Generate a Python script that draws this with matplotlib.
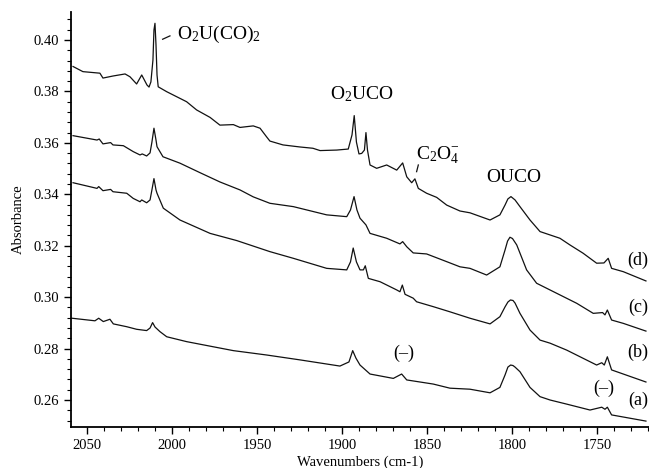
import matplotlib
matplotlib.use("Agg")
import matplotlib.pyplot as plt
from matplotlib.ticker import MultipleLocator

plt.rcParams['font.family'] = ['Liberation Serif', 'DejaVu Serif']
plt.rcParams['mathtext.fontset'] = 'custom'
plt.rcParams['mathtext.rm'] = 'Liberation Serif'

# trace (d) - top
wn_d = [2058.2, 2052.4, 2042.4, 2040.6, 2034.7, 2027.6, 2024.7, 2020.8, 2017.8, 2014.7,
        2013.5, 2012.4, 2011.2, 2010.6, 2010.0, 2009.4, 2008.8, 2008.1, 2003.1, 1995.3,
        1991.4, 1985.5, 1977.6, 1971.8, 1963.9, 1960.0, 1952.2, 1948.2, 1944.3, 1942.4,
        1934.7, 1924.7, 1917.1, 1912.9, 1903.1, 1896.3, 1894.1, 1892.8, 1891.5, 1890.0,
        1888.4, 1886.8, 1885.9, 1885.0, 1883.5, 1879.6, 1873.7, 1867.8, 1864.3, 1861.9,
        1859.0, 1857.1, 1855.1, 1850.2, 1844.3, 1838.4, 1830.6, 1824.7, 1812.9, 1807.1,
        1804.1, 1802.4, 1800.6, 1798.2, 1795.3, 1789.4, 1783.5, 1771.8, 1765.9, 1758.2,
        1750.2, 1745.9, 1743.4, 1741.4, 1734.5, 1721.2]
abs_d = [0.3897, 0.3877, 0.3871, 0.3852, 0.3860, 0.3868, 0.3857, 0.3829, 0.3864, 0.3825,
         0.3817, 0.3837, 0.3922, 0.4039, 0.4065, 0.3981, 0.3864, 0.3818, 0.3799, 0.3773,
         0.3760, 0.3728, 0.3699, 0.3669, 0.3671, 0.3660, 0.3666, 0.3657, 0.3623, 0.3607,
         0.3592, 0.3584, 0.3579, 0.3570, 0.3572, 0.3576, 0.3631, 0.3706, 0.3603, 0.3557,
         0.3559, 0.3572, 0.3640, 0.3572, 0.3514, 0.3501, 0.3514, 0.3494, 0.3522, 0.3468,
         0.3445, 0.3460, 0.3423, 0.3404, 0.3388, 0.3358, 0.3335, 0.3328, 0.3300, 0.3320,
         0.3358, 0.3382, 0.3391, 0.3378, 0.3352, 0.3300, 0.3255, 0.3229, 0.3203, 0.3171,
         0.3132, 0.3133, 0.3151, 0.3112, 0.3099, 0.3063]

# trace (c)
wn_c = [2058.2, 2044.1, 2042.8, 2040.6, 2036.1, 2034.7, 2028.6, 2022.8, 2018.8, 2017.5,
        2014.9, 2012.9, 2011.8, 2010.6, 2009.4, 2008.8, 2005.3, 1995.3, 1983.5, 1971.8,
        1960.0, 1952.2, 1942.4, 1928.6, 1909.0, 1897.2, 1895.0, 1892.9, 1891.2, 1889.4,
        1885.9, 1883.5, 1873.7, 1865.9, 1864.3, 1861.9, 1858.1, 1850.2, 1838.4, 1830.6,
        1824.7, 1814.9, 1807.1, 1804.1, 1802.6, 1801.2, 1799.7, 1797.2, 1791.4, 1785.5,
        1773.7, 1761.9, 1752.2, 1746.7, 1745.3, 1743.9, 1741.4, 1734.5, 1721.2]
abs_c = [0.3628, 0.3611, 0.3615, 0.3596, 0.3601, 0.3592, 0.3589, 0.3566, 0.3553, 0.3557,
         0.3549, 0.3561, 0.3603, 0.3657, 0.3611, 0.3585, 0.3546, 0.3521, 0.3484, 0.3448,
         0.3417, 0.3390, 0.3365, 0.3352, 0.3320, 0.3313, 0.3339, 0.3391, 0.3339, 0.3307,
         0.3281, 0.3248, 0.3229, 0.3207, 0.3216, 0.3196, 0.3172, 0.3168, 0.3138, 0.3118,
         0.3112, 0.3086, 0.3118, 0.3183, 0.3218, 0.3233, 0.3228, 0.3203, 0.3106, 0.3054,
         0.3015, 0.2976, 0.2937, 0.2940, 0.2931, 0.2950, 0.2911, 0.2898, 0.2868]

# trace (b)
wn_b = [2058.2, 2044.1, 2043.1, 2040.6, 2036.1, 2034.7, 2026.6, 2022.8, 2018.8, 2017.8,
        2014.9, 2012.9, 2011.8, 2010.6, 2009.4, 2008.8, 2005.1, 1995.3, 1977.6, 1961.9,
        1942.4, 1928.6, 1909.0, 1897.2, 1895.0, 1893.4, 1891.5, 1889.4, 1887.4, 1886.3,
        1884.5, 1877.6, 1867.8, 1865.9, 1864.5, 1862.9, 1858.1, 1856.1, 1846.3, 1836.5,
        1824.7, 1812.9, 1807.1, 1804.1, 1802.4, 1800.9, 1799.4, 1798.2, 1795.3, 1789.4,
        1783.5, 1777.6, 1767.8, 1758.1, 1750.2, 1747.2, 1745.7, 1743.9, 1741.4, 1721.2]
abs_b = [0.3445, 0.3423, 0.3430, 0.3414, 0.3419, 0.3410, 0.3404, 0.3384, 0.3371, 0.3378,
         0.3367, 0.3378, 0.3417, 0.3461, 0.3417, 0.3404, 0.3346, 0.3300, 0.3248, 0.3220,
         0.3177, 0.3151, 0.3112, 0.3106, 0.3137, 0.3191, 0.3137, 0.3106, 0.3106, 0.3122,
         0.3073, 0.3060, 0.3028, 0.3021, 0.3047, 0.3011, 0.2996, 0.2982, 0.2963, 0.2943,
         0.2918, 0.2896, 0.2924, 0.2962, 0.2981, 0.2989, 0.2987, 0.2977, 0.2937, 0.2872,
         0.2833, 0.2821, 0.2794, 0.2762, 0.2736, 0.2745, 0.2736, 0.2768, 0.2717, 0.2670]

# trace (a) - bottom
wn_a = [2058.8, 2045.3, 2043.1, 2040.4, 2036.5, 2034.5, 2026.6, 2020.8, 2014.9, 2012.9,
        2011.4, 2010.0, 2007.1, 2003.1, 1991.4, 1975.7, 1963.9, 1944.3, 1924.7, 1901.2,
        1895.9, 1893.7, 1891.8, 1889.4, 1883.5, 1869.8, 1864.9, 1861.9, 1846.3, 1836.5,
        1824.7, 1812.9, 1807.1, 1804.1, 1802.4, 1800.8, 1799.4, 1798.2, 1795.3, 1789.4,
        1783.5, 1777.6, 1767.8, 1754.1, 1747.2, 1745.3, 1743.9, 1741.4, 1721.2]
abs_a = [0.2918, 0.2908, 0.2918, 0.2905, 0.2914, 0.2896, 0.2885, 0.2875, 0.2870, 0.2880,
         0.2901, 0.2884, 0.2866, 0.2846, 0.2827, 0.2807, 0.2792, 0.2775, 0.2756, 0.2732,
         0.2748, 0.2792, 0.2763, 0.2736, 0.2701, 0.2684, 0.2701, 0.2678, 0.2662, 0.2646,
         0.2642, 0.2628, 0.2649, 0.2697, 0.2728, 0.2736, 0.2734, 0.2728, 0.2710, 0.2649,
         0.2613, 0.2600, 0.2584, 0.2561, 0.2572, 0.2564, 0.2572, 0.2542, 0.2518]

traces = [(wn_d, abs_d), (wn_c, abs_c), (wn_b, abs_b), (wn_a, abs_a)]

fig = plt.figure(figsize=(6.49, 4.68), dpi=100)
ax = fig.add_axes([0.1094, 0.0876, 0.8906, 0.8868])

for wn, ab in traces:
    ax.plot(wn, ab, color='#111111', lw=0.9)

ax.set_xlim(2059.4, 1719.4)
ax.set_ylim(0.2495, 0.4109)
ax.spines['top'].set_visible(False)
ax.spines['right'].set_visible(False)
ax.spines['left'].set_linewidth(1.3)
ax.spines['bottom'].set_linewidth(1.3)

ax.xaxis.set_major_locator(MultipleLocator(50))
ax.xaxis.set_minor_locator(MultipleLocator(10))
ax.yaxis.set_major_locator(MultipleLocator(0.02))
ax.yaxis.set_minor_locator(MultipleLocator(0.004))
ax.yaxis.set_major_formatter(matplotlib.ticker.FormatStrFormatter('%.2f'))
ax.tick_params(which='major', length=5, width=1, labelsize=10.5)
ax.tick_params(which='minor', length=3, width=0.8)

ax.set_xlabel('Wavenumbers (cm-1)', fontsize=10.5, labelpad=3)
ax.set_ylabel('Absorbance', fontsize=10.5, labelpad=6)

# peak labels
ax.text(1997.2, 0.4006, r'$\mathregular{O_2U(CO)_2}$', fontsize=14, ha='left', va='baseline')
ax.plot([2005.5, 2001.2], [0.4003, 0.4016], color='#111111', lw=0.9)
ax.text(1907.1, 0.3771, r'$\mathregular{O_2UCO}$', fontsize=14, ha='left', va='baseline')
ax.text(1856.5, 0.3537, r'$\mathregular{C_2O_4^{-}}$', fontsize=14, ha='left', va='baseline')
ax.plot([1855.1, 1856.1], [0.3514, 0.3488], color='#111111', lw=0.9)
ax.text(1815.3, 0.3448, 'OUCO', fontsize=14, ha='left', va='baseline')

for lab, y in [('(d)', 0.3144), ('(c)', 0.2962), ('(b)', 0.2787), ('(a)', 0.2600)]:
    ax.text(1725.9, y, lab, fontsize=13, ha='center', va='center', clip_on=False)
ax.text(1745.9, 0.2647, '(–)', fontsize=13, ha='center', va='center')
ax.text(1863.5, 0.2783, '(–)', fontsize=13, ha='center', va='center')

fig.savefig('out.png', dpi=100)
